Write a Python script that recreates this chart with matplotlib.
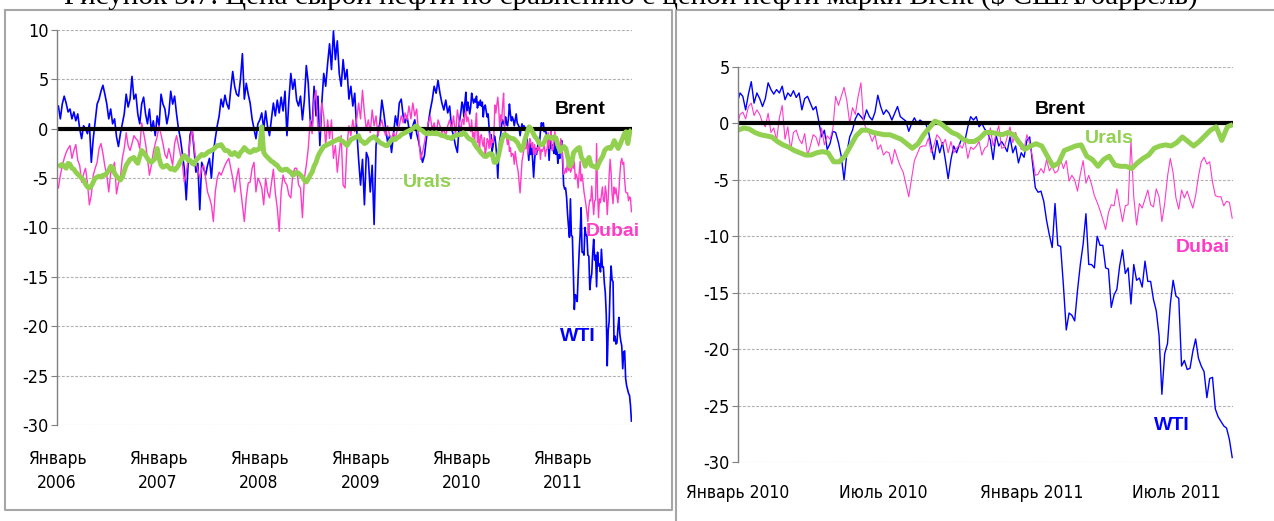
import matplotlib
matplotlib.use("Agg")
import matplotlib.pyplot as plt
from matplotlib.lines import Line2D
import pandas as pd

# spreads to Brent, $/bbl; weekly, Jan 2006 - Dec 2009
wti_early = [
    2.3, 1.0, 2.5, 3.3, 2.6, 1.7, 2.0, 1.0, 1.7, 0.8, 1.5, 0.0, -1.0, 0.3, 0.0, -0.5, 0.5, -3.4, -1.0, 0.8,
    2.5, 3.0, 3.8, 4.4, 3.5, 2.5, 1.0, 2.0, 0.5, 1.0, -0.8, -1.8, -0.5, 0.5, 1.5, 3.5, 2.2, 3.0, 5.3, 3.0,
    3.5, 1.5, 0.5, 2.5, 3.2, 1.5, 0.5, 2.0, -0.2, 0.8, -0.7, 1.3,
    0.3, 3.5, 2.5, 2.0, 0.5, 1.5, 3.8, 2.5, 3.3, 1.5, 0.0, -1.0, -2.5, -4.0, -7.2, -3.5, -0.6, 0.0, -2.0, -4.4,
    -3.5, -8.2, -3.4, -4.0, -4.7, -3.7, -3.0, -5.0, -2.4, -1.0, 0.3, 1.3, 3.0, 2.2, 3.4, 2.5, 2.0, 4.0, 5.8, 4.3,
    3.5, 3.3, 5.0, 7.6, 3.0, 4.6, 3.5, 2.6, 1.0, 0.0, -1.0, 0.5,
    0.9, 1.6, 0.0, 1.8, 0.2, -0.7, 1.0, 2.6, 1.3, 2.9, 1.6, 3.2, 1.8, 3.8, -0.7, 2.9, 5.6, 4.0, 5.0, 2.9,
    2.3, 3.3, 0.9, 2.9, 6.4, 4.6, 0.9, 0.0, 4.3, 1.3, 3.3, -1.7, 2.6, 5.6, 4.3, 6.6, 8.6, 6.0, 9.9, 7.0,
    8.9, 5.6, 4.3, 7.0, 5.0, 6.0, 3.0, 4.3, 2.3, 3.6, 0.0, -3.1,
    -5.7, -3.1, -7.7, -2.4, -3.0, -6.4, -3.7, -9.7, -1.7, -0.3, 0.6, 2.9, 1.6, 0.0, -1.4, -0.7, -2.4, -0.5, 1.3, 0.3,
    2.6, 3.0, 1.3, 0.6, 1.3, 0.0, -1.0, 0.3, 0.9, -0.5, -1.3, -2.4, -3.4, -2.7, -1.0, 0.6, 1.9, 2.9, 4.3, 3.6,
    4.9, 3.6, 2.6, 1.9, 2.9, 1.6, 2.3, 0.0, -0.7, -1.7, -2.4, 0.6,
]
dubai_early = [
    -6.0, -4.7, -3.8, -3.0, -2.4, -2.0, -1.7, -3.0, -2.2, -1.6, -3.2, -3.7, -5.4, -4.6, -4.0, -5.5, -7.7, -6.7, -4.7, -4.0,
    -3.4, -2.0, -1.5, -2.5, -3.8, -4.7, -6.4, -4.5, -4.0, -3.4, -6.6, -5.5, -5.0, -3.0, -2.0, -0.4, -1.7, -2.2, -1.5, -0.7,
    -1.0, -1.2, -2.0, 0.6, -0.4, -1.5, -3.0, -4.7, -3.7, -2.4, -1.5, -0.8,
    0.3, -0.6, -1.5, -2.6, -3.0, -2.0, -2.8, -3.7, -1.5, -0.7, -1.7, -2.6, -3.5, -5.4, -4.5, -3.0, -1.2, 0.0, -1.5, -3.4,
    -4.2, -5.0, -4.0, -3.7, -5.0, -6.4, -7.0, -7.7, -9.4, -6.4, -5.0, -4.4, -4.7, -4.2, -3.7, -3.3, -3.0, -4.0, -5.0, -6.4,
    -5.0, -4.0, -6.0, -7.7, -9.4, -7.0, -5.5, -5.4, -4.0, -3.4, -6.4, -5.0,
    -5.4, -6.0, -7.7, -5.0, -6.4, -7.0, -5.5, -4.1, -6.5, -8.0, -10.4, -6.4, -4.7, -5.4, -5.7, -6.7, -7.0, -4.7, -4.0, -4.0,
    -5.7, -6.0, -9.0, -5.0, -3.7, -2.0, 0.9, -0.5, 2.9, 3.9, 0.0, -0.3, 2.6, 1.3, -1.7, 0.9, -1.0, 0.9, -3.0, -1.7,
    -4.4, -2.4, -0.7, -5.7, -6.0, -1.7, 0.3, -0.7, 0.9, -0.3, 0.9, 2.6,
    1.0, 3.9, 1.6, -0.1, 0.9, -0.4, 1.9, 0.3, 1.3, -0.7, 0.3, 0.9, -0.1, -0.7, 0.3, -0.7, -1.0, -0.4, -1.0, 0.0,
    0.3, 1.3, 0.6, 1.6, 0.9, 2.3, 1.0, 2.6, 1.3, 2.0, -0.7, -3.1, -2.4, -1.4, -0.3, 0.6, 1.3, -0.1, 0.6, -0.7,
    0.9, 0.3, -0.4, -0.1, -0.7, 0.3, 0.9, -0.1, 1.3, -0.7, 1.9, 0.6,
]
urals_early = [
    -3.9, -3.7, -3.6, -3.8, -4.0, -3.5, -3.6, -4.0, -4.1, -4.4, -4.6, -4.8, -5.0, -5.2, -5.6, -5.9, -6.0, -5.8, -5.4, -5.0,
    -4.9, -4.8, -4.9, -4.7, -4.7, -4.5, -4.2, -3.8, -3.9, -4.5, -4.8, -5.0, -5.2, -4.9, -4.3, -3.7, -3.4, -3.1, -3.0, -2.9,
    -3.3, -3.5, -2.8, -2.2, -2.4, -2.7, -3.0, -3.3, -3.4, -3.2, -3.0, -2.0,
    -3.0, -3.7, -3.9, -3.8, -3.7, -3.9, -4.1, -4.0, -4.2, -4.0, -3.7, -3.3, -3.0, -2.7, -2.9, -3.2, -3.2, -3.5, -3.6, -3.2,
    -3.0, -2.8, -2.6, -2.7, -2.6, -2.4, -2.3, -2.2, -2.1, -1.9, -1.7, -1.7, -1.6, -1.9, -2.2, -2.2, -2.3, -2.6, -2.6, -2.4,
    -2.6, -2.8, -2.4, -2.2, -1.9, -2.1, -2.3, -2.4, -2.3, -2.1, -2.2, -2.1,
    -2.0, 0.2, -2.4, -2.7, -2.9, -3.1, -3.3, -3.4, -3.6, -3.7, -4.0, -4.2, -4.2, -4.1, -4.1, -4.3, -4.4, -4.7, -4.6, -4.4,
    -4.5, -4.7, -4.9, -5.2, -5.4, -5.1, -4.7, -4.4, -3.8, -3.4, -2.8, -2.4, -2.1, -1.8, -1.7, -1.6, -1.5, -1.4, -1.3, -1.2,
    -1.1, -1.0, -1.2, -1.3, -1.5, -1.7, -1.4, -1.1, -1.0, -0.9, -0.8, -0.7,
    -1.2, -1.3, -1.5, -1.4, -1.2, -1.0, -0.9, -0.8, -1.0, -1.2, -1.4, -1.5, -1.6, -1.7, -1.7, -1.4, -1.1, -1.0, -1.1, -0.9,
    -0.8, -0.6, -0.5, -0.4, -0.3, -0.2, -0.1, 0.0, 0.2, 0.3, 0.0, -0.1, -0.2, -0.4, -0.5, -0.4, -0.5, -0.4, -0.5, -0.4,
    -0.5, -0.6, -0.7, -0.7, -0.8, -0.9, -0.9, -1.0, -0.8, -0.7, -0.6, -0.6,
]

# Jan 2010 - Sep 2011 (right panel): WTI and Dubai twice a week, Urals weekly
wti_late = [
    1.8, 2.7, 2.4, 1.2, 2.6, 3.7, 1.8, 2.7, 2.2, 1.5, 2.2, 3.6, 3.0, 2.6, 3.0, 2.7, 3.3, 2.1, 2.7, 2.4,
    2.9, 2.3, 2.7, 1.2, 2.2, 2.4, 1.8, 1.2, 1.5, 0.2, -1.2, -0.6, -2.3, -1.8, -0.7, -0.8, -1.7, -2.9, -5.0, -2.6,
    -1.2, -0.6, 0.4, 0.9, 0.6, 0.3, 1.2, 0.6, 0.3, 1.0, 2.5, 1.5, 0.8, 1.2, 0.9, 0.3, 0.9, 1.5, 0.6, 0.4,
    0.2, -0.7, 0.0, 0.5, 0.0, 0.3, 0.1, 0.0, -0.7, -2.0, -3.2, -1.5, -2.6, -1.7, -3.2, -4.9, -3.2, -2.0, -2.6, -1.9,
    -1.2, -1.5, -0.3, 0.6, 0.3, 0.6, -0.3, 0.0, -0.5, -0.8, -1.5, -3.2, -1.0, -2.0, -1.6, -2.0, -2.5, -1.2, -2.6, -2.0,
    -3.5, -2.6, -3.0, -1.5, -1.2, -3.5, -5.7, -6.1, -6.0, -6.9, -8.6, -9.9, -11.0, -7.1, -10.8, -10.9, -14.4, -18.3, -16.8, -17.0,
    -17.5, -14.8, -12.5, -10.7, -8.0, -12.5, -12.5, -12.8, -10.0, -10.8, -10.8, -12.8, -12.9, -16.3, -15.2, -14.7, -12.6, -11.2, -13.3, -12.8,
    -16.0, -12.5, -13.9, -13.7, -14.5, -12.2, -14.0, -14.0, -15.6, -16.6, -18.8, -24.0, -20.4, -19.5, -16.0, -13.9, -15.3, -15.5, -21.5, -21.0,
    -21.8, -21.7, -20.2, -19.1, -20.8, -21.5, -22.0, -24.3, -22.6, -22.5, -25.3, -26.0, -26.4, -26.8, -27.0, -28.0, -29.6,
]
dubai_late = [
    -0.3, 0.8, 1.0, 0.4, 1.5, 1.8, 0.7, 1.2, 0.8, 0.1, -0.3, 0.9, -0.8, -0.4, -1.5, 0.5, 1.6, -1.4, -0.3, -2.4,
    -0.8, -0.6, -1.4, -1.8, -0.9, -2.8, -2.0, -1.0, -1.2, -2.0, -0.4, -1.9, -1.1, -1.4, -0.5, 2.4, 1.6, 2.4, 3.2, 2.0,
    0.0, 1.4, 0.8, 2.4, 3.6, 0.0, -0.5, -0.9, -1.6, -1.0, -2.3, -1.9, -2.8, -2.5, -2.6, -3.6, -2.3, -3.1, -3.8, -4.3,
    -5.4, -6.5, -4.9, -3.3, -2.7, -2.1, -2.0, -2.0, -1.3, -2.6, -1.9, -1.0, -1.3, -1.9, -1.4, -2.6, -1.6, -2.6, -2.2, -1.9,
    -2.2, -1.5, -3.1, -2.1, -2.3, -2.0, -1.6, -2.8, -2.2, -2.0, -0.4, -2.0, -1.0, -0.2, -2.2, -2.1, -1.2, -0.3, -1.7, -0.8,
    -1.6, -2.3, -2.3, -1.0, -1.8, -3.0, -4.6, -4.5, -4.0, -4.4, -3.2, -4.2, -3.8, -4.4, -4.2, -3.2, -4.0, -3.3, -5.1, -4.6,
    -5.0, -6.0, -4.5, -3.3, -5.3, -4.6, -5.4, -6.4, -7.0, -7.7, -8.5, -9.4, -7.9, -7.2, -7.3, -5.8, -7.3, -8.7, -7.3, -7.2,
    -1.5, -6.5, -9.0, -7.1, -7.5, -6.7, -5.9, -7.2, -7.4, -5.8, -6.5, -8.7, -7.1, -4.7, -3.1, -4.4, -6.6, -7.6, -5.9, -6.6,
    -6.0, -6.8, -7.5, -6.4, -4.7, -3.4, -3.0, -3.6, -3.4, -5.2, -6.4, -6.5, -6.5, -7.3, -6.9, -7.0, -8.4,
]
urals_late = [
    -0.6, -0.4, -0.5, -0.8, -1.0, -1.1, -1.2, -1.6, -1.9, -2.1, -2.4, -2.6, -2.8, -2.8, -2.6, -2.5, -2.6, -3.4, -3.4, -2.9,
    -2.0, -1.1, -0.6, -0.6, -0.8, -0.9, -1.0, -1.0, -1.2, -1.4, -1.8, -2.2, -1.8, -1.0, -0.4, 0.2, 0.0, -0.4, -0.8, -1.0,
    -1.4, -1.6, -1.6, -1.3, -0.8, -0.8, -0.9, -1.0, -0.8, -1.0, -1.7, -2.3, -2.0, -1.8, -2.0, -2.9, -3.8, -3.5, -2.4, -2.2,
    -2.0, -1.9, -2.9, -3.2, -3.8, -3.2, -2.9, -3.7, -3.8, -3.8, -4.0, -3.5, -3.1, -2.8, -2.2, -2.0, -1.9, -2.0, -1.7, -1.2,
    -1.6, -2.0, -1.6, -1.1, -0.6, -0.3, -1.5, -0.3, -0.1,
]

dates_early = pd.date_range("2006-01-06", periods=len(wti_early), freq="7D")
dates_late = pd.date_range("2009-12-31", periods=len(wti_late), freq="84h")
dates_week = pd.date_range("2006-01-06", periods=len(urals_early) + len(urals_late), freq="7D")
dates_week_late = dates_week[len(urals_early):]

wti = wti_early + wti_late
dubai = dubai_early + dubai_late
urals = urals_early + urals_late
dates_all = dates_early.append(dates_late)
brent = [0.0] * len(dates_week)

left_ticks = ["2006-01-01", "2007-01-01", "2008-01-01", "2009-01-01", "2010-01-01", "2011-01-01"]
left_labels = ["Январь\n2006", "Январь\n2007", "Январь\n2008", "Январь\n2009", "Январь\n2010", "Январь\n2011"]
right_ticks = ["2010-01-01", "2010-07-01", "2011-01-01", "2011-07-01"]
right_labels = ["Январь 2010", "Июль 2010", "Январь 2011", "Июль 2011"]

C_WTI = "#0000FF"
C_DUBAI = "#FF3CC8"
C_URALS = "#92D050"
tick_font = dict(family=["Liberation Sans Narrow", "DejaVu Sans"], stretch="condensed")
W, H = 1274, 521

fig = plt.figure(figsize=(W / 100, H / 100), dpi=100)
fig.patch.set_facecolor("white")


def px(x0, y0, x1, y1):
    # pixel box -> figure fraction rect
    return [x0 / W, 1 - y1 / H, (x1 - x0) / W, (y1 - y0) / H]


def style_axes(ax, yticks):
    for s in ["top", "right", "bottom"]:
        ax.spines[s].set_visible(False)
    ax.spines["left"].set_color("#808080")
    ax.spines["left"].set_linewidth(1.0)
    ax.set_yticks(yticks)
    ax.set_yticklabels([str(v) for v in yticks], fontsize=13, **tick_font)
    ax.tick_params(axis="y", length=4, color="#808080", pad=2)
    ax.tick_params(axis="x", length=0)
    ax.yaxis.grid(True, color="#B0B0B0", linestyle=(0, (2.5, 1.5)), linewidth=0.8)
    ax.set_axisbelow(True)


# left panel: 2006-2011
ax1 = fig.add_axes(px(57, 30, 632, 425))
ax1.plot(dates_all, wti, color=C_WTI, lw=1.2)
ax1.plot(dates_all, dubai, color=C_DUBAI, lw=1.0)
ax1.plot(dates_week, brent, color="black", lw=3.0, solid_capstyle="butt")
ax1.plot(dates_week, urals, color=C_URALS, lw=3.5, solid_capstyle="butt")
ax1.set_xlim(pd.Timestamp("2006-01-01"), pd.Timestamp("2011-09-10"))
ax1.set_ylim(-30, 10)
style_axes(ax1, list(range(-30, 11, 5)))
ax1.set_xticks([pd.Timestamp(t) for t in left_ticks])
ax1.set_xticklabels(left_labels, fontsize=12.5, linespacing=1.45, **tick_font)
ax1.tick_params(axis="x", pad=18)

lab = dict(fontsize=14, fontweight="bold", family=["Liberation Sans", "DejaVu Sans"], ha="center", va="center")
ax1.text(pd.Timestamp("2011-03-08"), 1.9, "Brent", color="black", **lab)
ax1.text(pd.Timestamp("2009-09-01"), -5.4, "Urals", color=C_URALS, **lab)
ax1.text(pd.Timestamp("2011-07-01"), -10.4, "Dubai", color=C_DUBAI, **lab)
ax1.text(pd.Timestamp("2011-02-28"), -21.0, "WTI", color=C_WTI, **lab)

# right panel: 2010-2011
ax2 = fig.add_axes(px(738, 67, 1233, 462))
ax2.plot(dates_late, wti_late, color=C_WTI, lw=1.0)
ax2.plot(dates_late, dubai_late, color=C_DUBAI, lw=0.8)
ax2.plot(dates_week_late, brent[len(urals_early):], color="black", lw=3.0, solid_capstyle="butt")
ax2.plot(dates_week_late, urals_late, color=C_URALS, lw=3.6, solid_capstyle="butt")
ax2.set_xlim(pd.Timestamp("2010-01-01"), pd.Timestamp("2011-09-09"))
ax2.set_ylim(-30, 5)
style_axes(ax2, list(range(-30, 6, 5)))
ax2.set_xticks([pd.Timestamp(t) for t in right_ticks])
ax2.set_xticklabels(right_labels, fontsize=12.5, **tick_font)
ax2.tick_params(axis="x", pad=16)

ax2.text(pd.Timestamp("2011-02-06"), 1.2, "Brent", color="black", **lab)
ax2.text(pd.Timestamp("2011-04-08"), -1.3, "Urals", color=C_URALS, **lab)
ax2.text(pd.Timestamp("2011-08-02"), -11.0, "Dubai", color=C_DUBAI, **lab)
ax2.text(pd.Timestamp("2011-06-25"), -26.8, "WTI", color=C_WTI, **lab)

# panel frames
fc = "#A6A6A6"
fig.add_artist(Line2D([5 / W, 672 / W, 672 / W, 5 / W, 5 / W],
                      [1 - 10 / H, 1 - 10 / H, 1 - 510 / H, 1 - 510 / H, 1 - 10 / H],
                      transform=fig.transFigure, color=fc, lw=1.5))
fig.add_artist(Line2D([676 / W, 676 / W, 1 - 0.5 / W], [0, 1 - 10 / H, 1 - 10 / H],
                      transform=fig.transFigure, color=fc, lw=1.5))

# caption, cut off at the top edge as in the source
fig.text(0.495, 1 - 4 / H,
         "Рисунок 3.7. Цена сырой нефти по сравнению с ценой нефти марки Brent ($ США/баррель)",
         family=["Liberation Serif", "DejaVu Serif"], fontsize=21, ha="center", va="baseline")

fig.savefig("out.png", dpi=100, facecolor="white")
